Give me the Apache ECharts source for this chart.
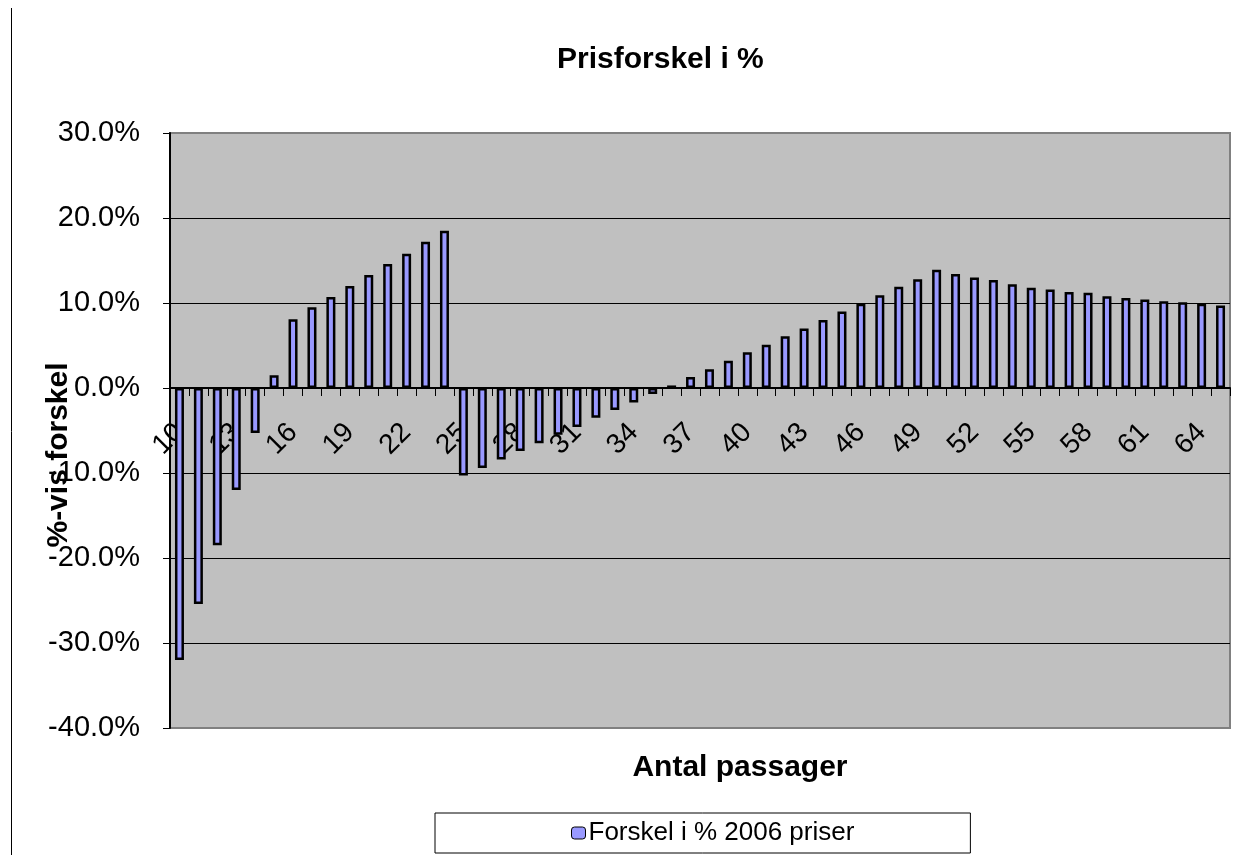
<!doctype html>
<html>
	<head>
		<meta charset="utf-8">
		<title>Prisforskel i %</title>
		<style>
			html, body { margin: 0; padding: 0; background: #fff; }
			#main { width: 1250px; height: 855px; }
		</style>
	</head>
	<body>
		<div id="main"></div>
		<script src="https://cdn.jsdelivr.net/npm/echarts@6/dist/echarts.min.js"></script>
		<script>
			// antal passager 10..65
			var passager = [];
			for (var p = 10; p <= 65; p++) {
				passager.push(String(p));
			}
			// forskel i %, 2006 priser
			var forskel = [
				-32.0, -25.4, -18.5, -12.0, -5.3, 1.5, 8.1, 9.5, 10.7, 12.0,
				13.3, 14.6, 15.8, 17.2, 18.5, -10.3, -9.4, -8.4, -7.4, -6.5,
				-5.5, -4.6, -3.5, -2.6, -1.7, -0.7, 0.3, 1.3, 2.2, 3.2,
				4.2, 5.1, 6.1, 7.0, 8.0, 9.0, 9.9, 10.9, 11.9, 12.8,
				13.9, 13.4, 13.0, 12.7, 12.2, 11.8, 11.6, 11.3, 11.2, 10.8,
				10.6, 10.4, 10.2, 10.1, 9.9, 9.7
			];
			var yTicks = [-40, -30, -20, -10, 0, 10, 20, 30];

			var font = 'Liberation Sans, Arial, sans-serif';
			var gridTop = 133, gridBottom = 127;
			var plotH = 855 - gridTop - gridBottom;
			var yMin = yTicks[0], yMax = yTicks[yTicks.length - 1];
			// move the category axis up to the 0 line
			var zeroOffset = -plotH * (0 - yMin) / (yMax - yMin);

			var myChart = echarts.init(document.getElementById('main'));

			var option = {
				backgroundColor: '#ffffff',
				animation: false,
				title: {
					text: 'Prisforskel i %',
					left: 552,
					top: 40,
					textStyle: { fontFamily: font, fontSize: 30, fontWeight: 'bold', color: '#000' }
				},
				legend: {
					data: ['Forskel i % 2006 priser'],
					left: 435,
					top: 813,
					padding: [7, 116, 7, 136],
					borderColor: '#000',
					borderWidth: 1,
					itemWidth: 14,
					itemHeight: 12,
					itemGap: 4,
					itemStyle: { borderColor: '#000', borderWidth: 1 },
					textStyle: { fontFamily: font, fontSize: 26, color: '#000', lineHeight: 26, padding: [0, 0, 0, -2] }
				},
				grid: {
					left: 170,
					right: 20,
					top: gridTop,
					bottom: gridBottom,
					show: true,
					backgroundColor: '#c0c0c0',
					borderColor: '#808080',
					borderWidth: 2
				},
				xAxis: {
					type: 'category',
					data: passager,
					position: 'bottom',
					offset: zeroOffset,
					z: 0,
					axisLine: { onZero: false, lineStyle: { color: '#000', width: 2 } },
					axisTick: { show: true, interval: 0, length: 8, lineStyle: { color: '#000', width: 1 } },
					axisLabel: {
						interval: 2,
						rotate: 45,
						margin: 40,
						fontFamily: font,
						fontSize: 28,
						color: '#000'
					},
					splitLine: { show: false }
				},
				yAxis: {
					type: 'value',
					min: yMin,
					max: yMax,
					interval: 10,
					axisLine: { show: true, lineStyle: { color: '#000', width: 2 } },
					axisTick: { show: true, inside: false, length: 7, lineStyle: { color: '#000', width: 1 } },
					axisLabel: {
						margin: 30,
						fontFamily: font,
						fontSize: 29,
						color: '#000',
						formatter: function(v) { return v.toFixed(1) + '%'; }
					},
					splitLine: { show: true, showMinLine: false, showMaxLine: false, lineStyle: { color: '#000', width: 1 } }
				},
				series: [{
					name: 'Forskel i % 2006 priser',
					type: 'bar',
					data: forskel,
					barWidth: 9,
					z: 5,
					itemStyle: { color: '#9999ff', borderColor: '#000', borderWidth: 2.5 }
				}],
				graphic: [
					{
						type: 'line',
						shape: { x1: 11.5, y1: 8, x2: 11.5, y2: 855 },
						style: { stroke: '#000', lineWidth: 1 }
					},
					{
						type: 'text',
						x: 59,
						y: 455,
						rotation: Math.PI / 2,
						style: {
							text: '%-vis forskel',
							font: 'bold 30px ' + font,
							fill: '#000',
							textAlign: 'center',
							textVerticalAlign: 'middle'
						}
					},
					{
						type: 'text',
						x: 740,
						y: 768,
						style: {
							text: 'Antal passager',
							font: 'bold 30px ' + font,
							fill: '#000',
							textAlign: 'center',
							textVerticalAlign: 'middle'
						}
					}
				]
			};
			myChart.setOption(option);
		</script>
	</body>
</html>
